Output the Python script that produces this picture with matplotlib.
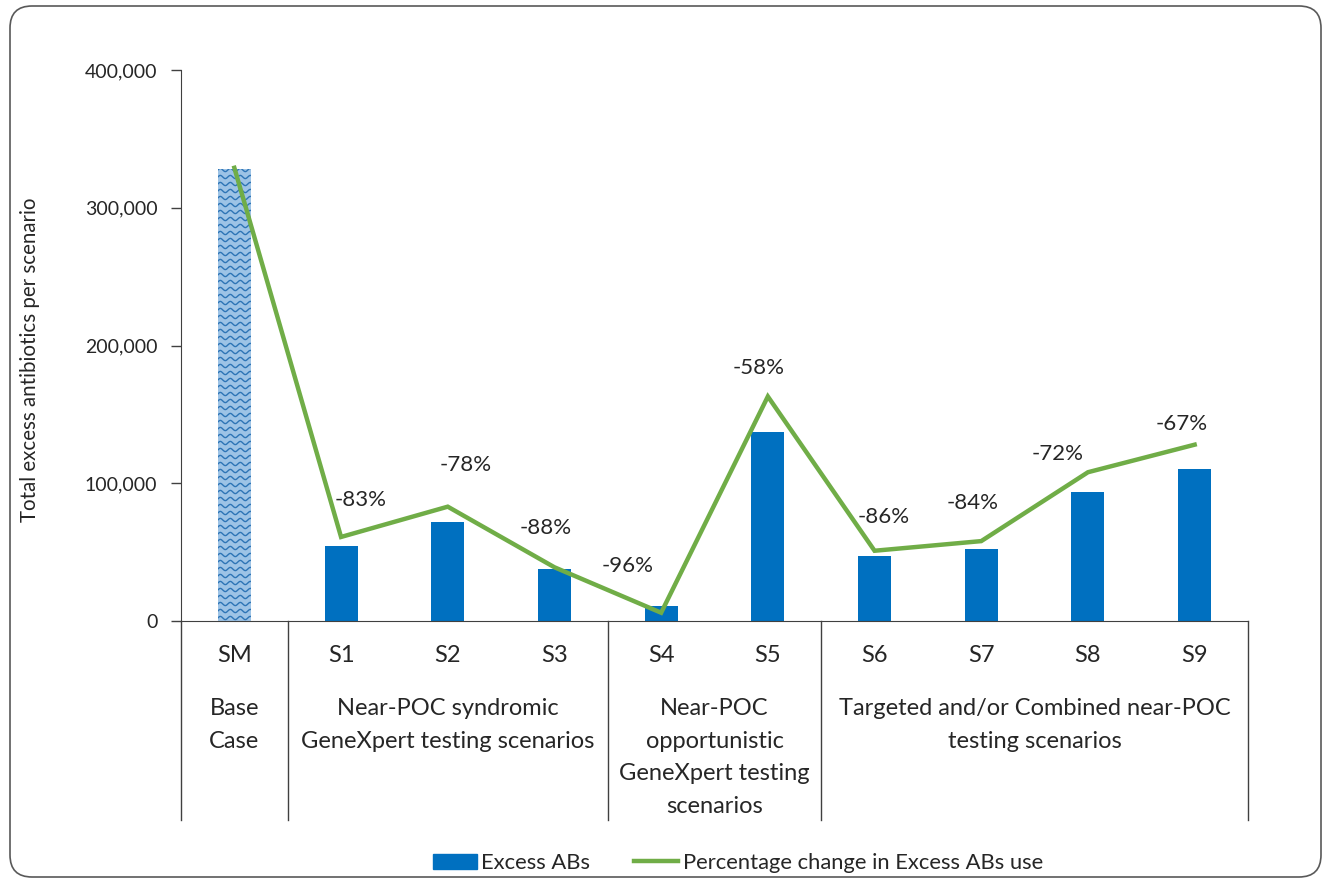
import numpy as np
import matplotlib
matplotlib.use("Agg")
import matplotlib.pyplot as plt
import matplotlib.transforms as mtransforms
from matplotlib.patches import FancyBboxPatch, Patch
from matplotlib.lines import Line2D
from matplotlib.ticker import FuncFormatter

plt.rcParams['font.family'] = ['Lato', 'DejaVu Sans']

# data
scenarios = ["SM", "S1", "S2", "S3", "S4", "S5", "S6", "S7", "S8", "S9"]
excess_abs = [328000, 54500, 72000, 38000, 11000, 137000, 47000, 52000, 94000, 110000]
line_level = [329000, 61000, 83000, 39000, 6000, 163000, 51000, 58000, 108000, 128000]
pct_change = [None, -83, -78, -88, -96, -58, -86, -84, -72, -67]
groups = ["Base\nCase",
          "Near-POC syndromic\nGeneXpert testing scenarios",
          "Near-POC\nopportunistic\nGeneXpert testing\nscenarios",
          "Targeted and/or Combined near-POC\ntesting scenarios"]
group_bounds = [(-0.5, 0.5), (0.5, 3.5), (3.5, 5.5), (5.5, 9.5)]

# label offsets (pixels) from each line point, as placed in the original
label_offsets = [None, (20, 37), (18, 42), (-9, 39), (-34, 47), (-9, 28),
                 (9, 34), (-9, 38), (-30, 18), (-13, 21)]

BLUE = "#0070C0"
GREEN = "#70AD47"
TXT = "#262626"

fig = plt.figure(figsize=(13.23, 8.81), dpi=100)
W, H = 1323, 881
ax = fig.add_axes([181 / W, 1 - 621 / H, (1248 - 181) / W, 551 / H])

x = np.arange(len(scenarios))
bars = ax.bar(x, excess_abs, width=0.31, color=BLUE, zorder=2)

# base case bar: light blue with wavy pattern
base = bars[0]
base.set_facecolor("#9DC3E6")
bx0, bw = base.get_x(), base.get_width()
wx = np.linspace(bx0, bx0 + bw, 200)
px_x = 10 / 106.7   # wave period in category units
px_y = 1000 / 1.3775  # one pixel in data units
for row in np.arange(3 * px_y, excess_abs[0] + 7 * px_y, 7 * px_y):
    wl, = ax.plot(wx, row + 1.6 * px_y * np.sin(2 * np.pi * (wx - bx0) / px_x),
                  color="#2E75B6", lw=1.0, zorder=3)
    wl.set_clip_path(base)

ax.plot(x, line_level, color=GREEN, lw=3.2, zorder=4, solid_joinstyle="miter")

for xi, yi, p, off in zip(x, line_level, pct_change, label_offsets):
    if p is None:
        continue
    ax.annotate(f"{p}%", (xi, yi), xytext=off, textcoords="offset pixels",
                ha="center", va="center", fontsize=16, color=TXT, zorder=5)

ax.set_xlim(-0.5, 9.5)
ax.set_ylim(0, 400000)
ax.set_yticks([0, 100000, 200000, 300000, 400000])
ax.yaxis.set_major_formatter(FuncFormatter(lambda v, _: f"{int(v):,}"))
ax.tick_params(axis="y", direction="out", length=7, width=1, color="#404040",
               labelsize=14, labelcolor=TXT, pad=10)
ax.set_xticks([])
for s in ["top", "right"]:
    ax.spines[s].set_visible(False)
ax.spines["left"].set_color("#404040")
ax.spines["bottom"].set_color("#404040")

# category and group labels under the axis
trans = mtransforms.blended_transform_factory(ax.transData, ax.transAxes)
axh = 551.0
for xi, name in zip(x, scenarios):
    ax.text(xi, -(656 - 621) / axh, name, transform=trans, ha="center",
            va="center", fontsize=17, color=TXT)
for (a, b), g in zip(group_bounds, groups):
    ax.text((a + b) / 2, -(698 - 621) / axh, g, transform=trans, ha="center",
            va="top", fontsize=17, color=TXT, linespacing=1.68)
for xb in [-0.5, 0.5, 3.5, 5.5, 9.5]:
    ax.plot([xb, xb], [0, -(820 - 621) / axh], transform=trans, color="#404040",
            lw=1, clip_on=False)

ax.set_ylabel("Total excess antibiotics per scenario", fontsize=14.8, color=TXT)
ax.yaxis.set_label_coords(40 / W, 1 - 360 / H, transform=fig.transFigure)

handles = [Patch(color=BLUE, label="Excess ABs"),
           Line2D([0], [0], color=GREEN, lw=3.2,
                  label="Percentage change in Excess ABs use")]
fig.legend(handles=handles, loc="center", ncol=2, frameon=False,
           bbox_to_anchor=(738 / W, 1 - 863 / H), fontsize=15.8,
           handlelength=2.0, handletextpad=0.2, columnspacing=2.0,
           labelcolor=TXT)

frame = FancyBboxPatch((10, H - 877), 1311, 871,
                       boxstyle="round,pad=0,rounding_size=22",
                       transform=mtransforms.IdentityTransform(),
                       facecolor="none", edgecolor="#595959", lw=1.2)
fig.patches.append(frame)

fig.savefig("out.png", dpi=100)
